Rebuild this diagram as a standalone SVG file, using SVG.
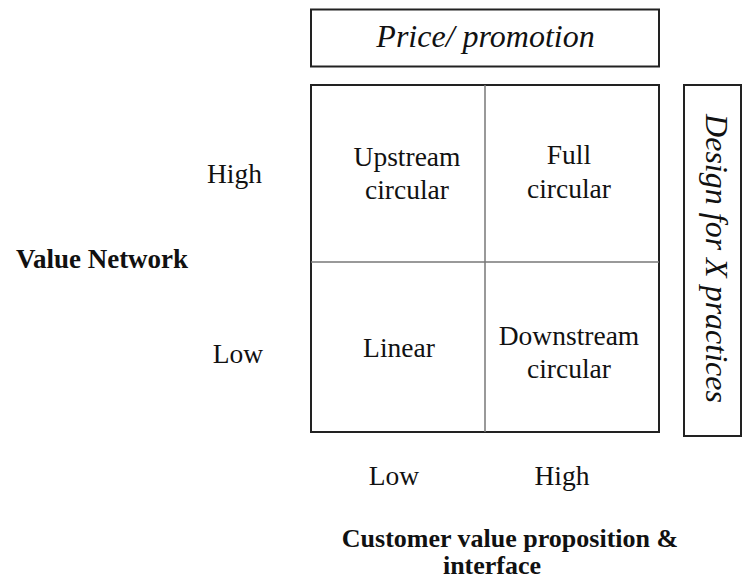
<svg xmlns="http://www.w3.org/2000/svg" width="743" height="580" viewBox="0 0 743 580">
<style>
text{font-family:"Liberation Serif","Times New Roman",serif;fill:#111;text-anchor:middle}
.it{font-style:italic;font-size:32px}
.cell{font-size:27.5px}
.ax{font-size:27.5px}
.bold{font-weight:bold;font-size:26px}
.box{fill:#fff;stroke:#222;stroke-width:2}
.inner{stroke:#777;stroke-width:1.5;fill:none}
</style>
<rect width="743" height="580" fill="#fff"/>
<g id="price">
<rect class="box" x="311" y="9.5" width="348" height="57"/>
<text class="it" x="485.5" y="47">Price/ promotion</text>
</g>
<g id="matrix">
<rect class="box" x="311" y="85" width="348" height="347"/>
<line class="inner" x1="485" y1="85" x2="485" y2="432"/>
<line class="inner" x1="311" y1="262" x2="659" y2="262"/>
</g>
<g id="upstream"><text class="cell" x="407" y="166">Upstream</text><text class="cell" x="407" y="199">circular</text></g>
<g id="full"><text class="cell" x="569" y="164">Full</text><text class="cell" x="569" y="198">circular</text></g>
<g id="linear"><text class="cell" x="399" y="357">Linear</text></g>
<g id="downstream"><text class="cell" x="569" y="345">Downstream</text><text class="cell" x="569" y="378">circular</text></g>
<g id="dfx">
<rect class="box" x="684" y="85" width="57" height="351"/>
<text class="it" transform="translate(706,258.5) rotate(90)" x="0" y="0">Design for X practices</text>
</g>
<g id="axis-y">
<text class="ax" x="234.5" y="183">High</text>
<text class="ax" x="238" y="363">Low</text>
<text class="bold" x="102" y="268" style="font-size:27px">Value  Network</text>
</g>
<g id="axis-x">
<text class="ax" x="394" y="485">Low</text>
<text class="ax" x="562" y="485">High</text>
<text class="bold" x="510" y="547">Customer value proposition &amp;</text>
<text class="bold" x="492" y="574">interface</text>
</g>
<g id="connectors"></g>
</svg>
